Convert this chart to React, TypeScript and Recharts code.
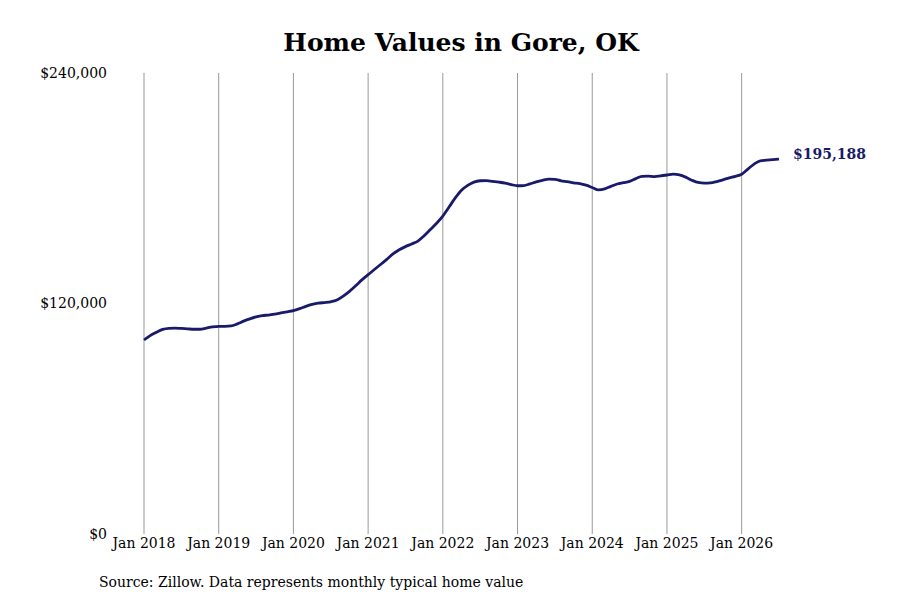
import { LineChart, Line, XAxis, YAxis, ReferenceLine } from "recharts";

const START_YEAR = 2018;

// Monthly typical home value, Jan 2018 – Jul 2026
const values2018 = [101000, 103300, 105000, 106500, 107100, 107200, 107000, 106800, 106600, 106600, 107200, 107800];
const values2019 = [108100, 108100, 108300, 109400, 110800, 112000, 113000, 113700, 114000, 114500, 115100, 115700];
const values2020 = [116300, 117300, 118500, 119500, 120200, 120500, 120900, 121800, 123800, 126300, 129200, 132300];
const values2021 = [135000, 137700, 140300, 143000, 145800, 148000, 149600, 151000, 152500, 155300, 158500, 161800];
const values2022 = [165500, 170200, 175000, 179000, 181500, 183200, 183900, 184000, 183600, 183200, 182700, 181900];
const values2023 = [181300, 181400, 182300, 183300, 184100, 184700, 184600, 183900, 183400, 182800, 182400, 181600];
const values2024 = [180400, 179200, 179700, 181000, 182200, 182900, 183600, 185000, 186200, 186300, 186100, 186500];
const values2025 = [186900, 187400, 187000, 185800, 184200, 183000, 182700, 182800, 183500, 184400, 185400, 186200];
const values2026 = [187300, 190000, 192600, 194300, 194600, 194900, 195188];

const yTicks = [0, 120000, 240000];
const xTickYears = [2018, 2019, 2020, 2021, 2022, 2023, 2024, 2025, 2026];

const allValues = [
  ...values2018,
  ...values2019,
  ...values2020,
  ...values2021,
  ...values2022,
  ...values2023,
  ...values2024,
  ...values2025,
  ...values2026,
];

const data = allValues.map((value, i) => ({ month: i, value }));
const lastIndex = data.length - 1;
const xTicks = xTickYears.map((y) => (y - START_YEAR) * 12);

const FONT = "'DejaVu Serif', serif";
const NAVY = "#1a1a6b";

const fmtMoney = (v: number) => `$${Math.round(v).toLocaleString("en-US")}`;

function EndLabel(props: any) {
  const { x, y, index, value } = props;
  if (index !== lastIndex) return null;
  return (
    <text
      x={x + 14}
      y={y - 5}
      dy="0.35em"
      fill={NAVY}
      fontFamily={FONT}
      fontSize={14}
      fontWeight="bold"
    >
      {fmtMoney(value)}
    </text>
  );
}

export default function App() {
  return (
    <div
      style={{
        position: "absolute",
        left: 0,
        top: 0,
        width: 900,
        height: 600,
        background: "#fff",
        fontFamily: FONT,
      }}
    >
      <div
        style={{
          position: "absolute",
          top: 27,
          left: 0,
          width: 922,
          textAlign: "center",
          fontSize: 25,
          fontWeight: "bold",
          color: "#000",
          lineHeight: "32px",
        }}
      >
        Home Values in Gore, OK
      </div>
      <LineChart
        width={900}
        height={600}
        data={data}
        margin={{ top: 73, right: 121, bottom: 0, left: 0 }}
      >
        <XAxis
          dataKey="month"
          type="number"
          domain={[0, 102]}
          ticks={xTicks}
          tickFormatter={(m: number) => `Jan ${START_YEAR + m / 12}`}
          axisLine={false}
          tickLine={false}
          tickSize={0}
          tickMargin={4}
          height={66}
          tick={{ fontSize: 14, fill: "#000", fontFamily: FONT }}
          interval={0}
        />
        <YAxis
          domain={[0, 240000]}
          ticks={yTicks}
          tickFormatter={fmtMoney}
          axisLine={false}
          tickLine={false}
          tickSize={0}
          tickMargin={37}
          width={144}
          tick={{ fontSize: 14, fill: "#000", fontFamily: FONT }}
          interval={0}
        />
        {xTicks.map((t) => (
          <ReferenceLine key={t} x={t} stroke="#999" strokeWidth={1} />
        ))}
        <Line
          type="monotone"
          dataKey="value"
          stroke={NAVY}
          strokeWidth={2.8}
          dot={false}
          isAnimationActive={false}
          label={<EndLabel />}
        />
      </LineChart>
      <div
        style={{
          position: "absolute",
          left: 99,
          top: 572,
          fontSize: 14,
          color: "#000",
          lineHeight: "20px",
          whiteSpace: "nowrap",
        }}
      >
        Source: Zillow. Data represents monthly typical home value
      </div>
    </div>
  );
}
